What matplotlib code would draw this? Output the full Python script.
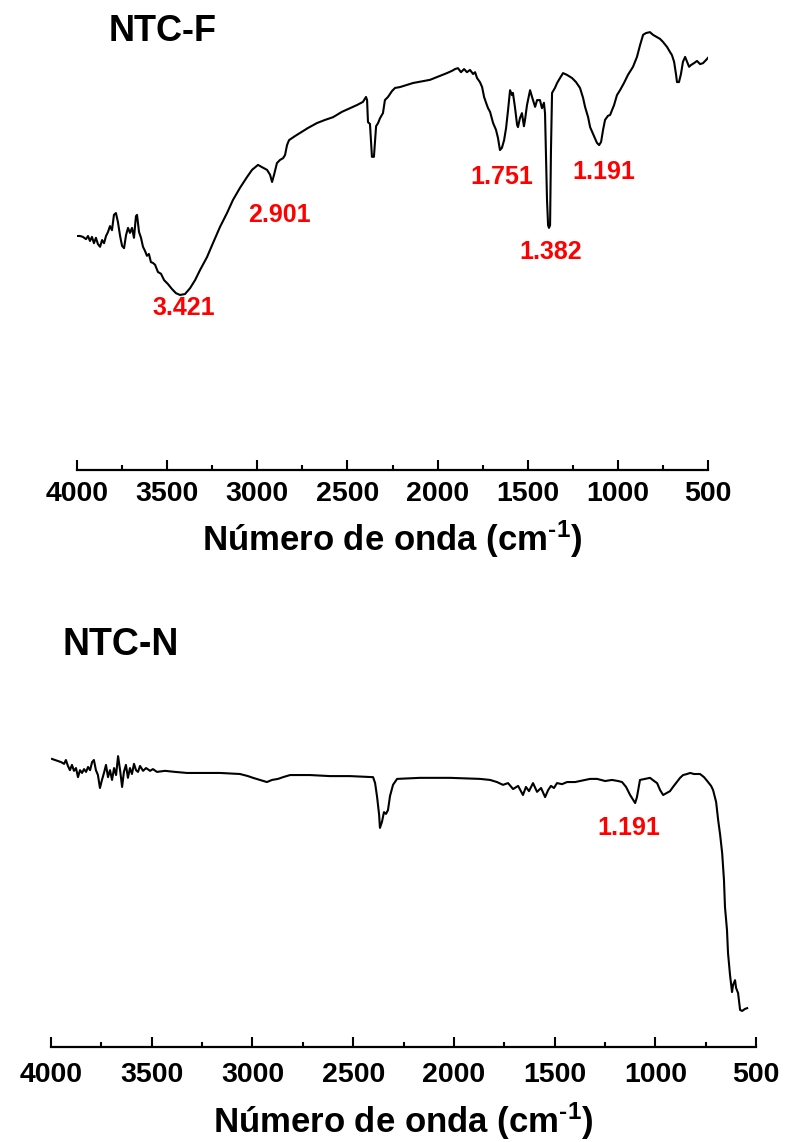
import numpy as np
import matplotlib
matplotlib.use("Agg")
import matplotlib.pyplot as plt
from matplotlib.ticker import MultipleLocator

plt.rcParams['font.family'] = ['Liberation Sans', 'DejaVu Sans']
plt.rcParams['font.weight'] = 'bold'
plt.rcParams['mathtext.fontset'] = 'custom'
plt.rcParams['mathtext.rm'] = 'Liberation Sans:bold'
plt.rcParams['mathtext.it'] = 'Liberation Sans:bold'
plt.rcParams['mathtext.bf'] = 'Liberation Sans:bold'

# NTC-F spectrum (wavenumber cm-1, transmittance a.u.)
wn_f = [4000, 3983, 3967, 3950, 3939, 3928, 3917, 3906, 3895, 3884, 3872, 3861, 3850, 3839,
        3828, 3817, 3806, 3795, 3784, 3773, 3761, 3750, 3739, 3728, 3717, 3706, 3695, 3684,
        3673, 3667, 3656, 3645, 3634, 3623, 3612, 3601, 3590, 3578, 3567, 3551, 3534, 3517,
        3495, 3473, 3451, 3429, 3401, 3373, 3345, 3318, 3279, 3246, 3207, 3168, 3135, 3096,
        3057, 3029, 2996, 2974, 2946, 2929, 2918, 2907, 2891, 2874, 2857, 2846, 2835, 2824,
        2791, 2763, 2719, 2669, 2624, 2580, 2530, 2486, 2447, 2414, 2397, 2391, 2386, 2375,
        2364, 2353, 2341, 2330, 2319, 2303, 2292, 2275, 2253, 2236, 2208, 2136, 2042, 1986,
        1948, 1920, 1903, 1887, 1870, 1853, 1837, 1820, 1803, 1792, 1781, 1765, 1753, 1742,
        1731, 1720, 1709, 1692, 1676, 1665, 1654, 1643, 1631, 1620, 1609, 1598, 1587, 1582,
        1570, 1559, 1554, 1543, 1532, 1521, 1515, 1504, 1487, 1476, 1459, 1448, 1432, 1421,
        1410, 1404, 1398, 1393, 1387, 1382, 1376, 1371, 1365, 1349, 1337, 1321, 1304, 1282,
        1254, 1232, 1210, 1193, 1182, 1165, 1154, 1132, 1116, 1104, 1093, 1082, 1071, 1055,
        1043, 1021, 1005, 988, 966, 944, 916, 894, 877, 860, 844, 822, 805, 783, 766, 749,
        727, 711, 700, 688, 677, 672, 661, 650, 639, 627, 616, 605, 594, 578, 561, 544, 528,
        511, 500]
t_f = [52.0, 52.0, 51.8, 51.3, 52.0, 50.9, 51.8, 50.4, 51.6, 50.2, 49.6, 51.1, 50.4, 52.0,
       52.9, 54.2, 53.3, 56.7, 57.1, 55.1, 52.0, 49.8, 49.3, 52.2, 53.8, 52.7, 53.8, 51.6,
       56.4, 56.7, 52.9, 51.6, 49.6, 48.7, 47.6, 48.0, 46.2, 46.0, 45.6, 44.0, 43.6, 42.2,
       41.3, 40.2, 39.3, 38.9, 39.1, 40.4, 42.2, 44.4, 47.3, 50.4, 54.0, 57.1, 60.0, 62.7,
       65.1, 66.7, 67.8, 67.3, 66.7, 65.6, 64.0, 65.6, 68.2, 68.9, 69.3, 70.0, 72.2, 73.3,
       74.2, 74.9, 76.0, 77.1, 77.8, 78.4, 79.6, 80.4, 81.1, 81.8, 82.9, 82.2, 77.3, 76.9,
       69.6, 69.6, 76.4, 77.1, 78.2, 79.3, 82.2, 82.9, 84.2, 84.9, 85.1, 86.0, 86.7, 87.6,
       88.2, 88.7, 89.1, 89.3, 88.4, 89.1, 88.4, 88.9, 88.0, 88.4, 87.1, 86.2, 85.1, 82.9,
       81.6, 80.4, 79.6, 77.1, 75.6, 73.8, 71.1, 71.6, 73.3, 76.0, 80.0, 84.4, 83.3, 83.8,
       80.4, 76.7, 76.2, 78.2, 79.3, 76.4, 77.8, 81.1, 84.4, 82.9, 80.7, 82.2, 82.2, 80.4,
       81.6, 79.3, 68.9, 60.0, 54.4, 53.8, 54.4, 71.1, 83.8, 84.9, 86.0, 87.1, 88.2, 87.8,
       87.1, 86.2, 84.9, 82.7, 80.7, 78.4, 76.2, 74.2, 72.7, 72.2, 72.9, 75.6, 77.8, 78.7,
       78.9, 81.1, 83.3, 84.4, 86.0, 87.8, 89.6, 91.8, 94.4, 96.7, 97.1, 97.3, 96.7, 96.2,
       95.8, 95.1, 94.0, 92.9, 92.2, 90.7, 87.8, 86.2, 86.2, 88.0, 90.7, 91.8, 90.7, 89.6,
       90.0, 90.4, 90.9, 90.2, 90.4, 91.1, 91.6]

# NTC-N spectrum
wn_n = [3995, 3980, 3965, 3950, 3935, 3926, 3916, 3906, 3896, 3886, 3876, 3866, 3856, 3846,
        3836, 3826, 3816, 3806, 3796, 3787, 3777, 3767, 3757, 3747, 3737, 3727, 3717, 3707,
        3697, 3687, 3677, 3667, 3657, 3647, 3638, 3628, 3618, 3608, 3598, 3588, 3578, 3568,
        3558, 3543, 3528, 3508, 3494, 3474, 3434, 3384, 3325, 3260, 3161, 3062, 3022, 2997,
        2962, 2928, 2903, 2873, 2848, 2813, 2714, 2615, 2516, 2401, 2391, 2381, 2371, 2367,
        2357, 2347, 2337, 2327, 2317, 2302, 2282, 2168, 2019, 1870, 1820, 1786, 1756, 1731,
        1706, 1681, 1657, 1642, 1627, 1607, 1587, 1567, 1547, 1532, 1518, 1503, 1488, 1463,
        1438, 1398, 1373, 1324, 1289, 1249, 1215, 1185, 1165, 1145, 1125, 1110, 1100, 1091,
        1076, 1051, 1026, 1006, 991, 976, 961, 942, 927, 912, 897, 877, 862, 842, 827, 808,
        793, 778, 758, 738, 723, 713, 698, 688, 678, 668, 659, 654, 644, 639, 629, 619, 614,
        604, 599, 589, 584, 579, 569, 554, 544]
t_n = [82.3, 82.0, 81.7, 81.4, 80.9, 82.0, 80.3, 79.1, 80.6, 78.9, 79.7, 77.1, 79.1, 78.3,
       79.4, 78.6, 80.0, 79.1, 81.4, 82.0, 79.1, 77.7, 74.0, 76.3, 78.3, 80.6, 77.1, 79.1,
       76.3, 79.7, 77.7, 83.1, 79.1, 74.3, 78.6, 80.6, 76.9, 79.7, 78.0, 80.9, 79.1, 78.6,
       80.3, 78.9, 79.7, 78.9, 79.4, 78.6, 78.9, 78.6, 78.3, 78.3, 78.3, 78.0, 77.4, 76.9,
       76.3, 75.7, 76.3, 76.6, 77.1, 77.7, 77.7, 77.4, 77.4, 77.1, 75.4, 71.4, 66.3, 62.6,
       64.3, 67.1, 66.6, 67.7, 71.7, 74.9, 76.6, 76.9, 76.9, 76.6, 76.3, 75.7, 74.9, 75.4,
       73.7, 74.6, 72.0, 74.3, 73.1, 75.4, 72.9, 74.0, 71.4, 73.4, 74.6, 74.0, 75.4, 75.1,
       75.7, 75.7, 76.0, 76.6, 76.6, 76.0, 76.3, 76.0, 75.7, 74.3, 72.0, 70.6, 69.7, 71.4,
       76.3, 76.6, 76.9, 76.0, 75.4, 73.4, 72.0, 72.6, 73.1, 74.3, 75.4, 76.9, 77.7, 78.0,
       78.3, 78.0, 78.0, 78.0, 77.1, 75.7, 74.6, 73.4, 70.0, 64.9, 60.6, 55.4, 47.7, 40.0,
       33.4, 26.9, 20.6, 15.7, 17.7, 19.1, 16.9, 15.4, 12.9, 10.6, 10.3, 10.9, 11.1]

# peak labels: (text, wavenumber, transmittance)
peaks_f = [("3.421", 3406, 36.0), ("2.901", 2879, 56.7), ("1.751", 1643, 65.1),
           ("1.382", 1371, 48.4), ("1.191", 1077, 66.2)]
peaks_n = [("1.191", 1130, 62.6)]

ticks = [4000, 3500, 3000, 2500, 2000, 1500, 1000, 500]

fig = plt.figure(figsize=(7.85, 11.42), dpi=100)
ax1 = fig.add_axes([77/785, 1 - 470/1142, 631/785, 450/1142])
ax2 = fig.add_axes([51/785, 1 - 1047/1142, 705/785, 350/1142])


def style(ax, pad, labelpad):
    ax.set_xlim(4000, 500)
    ax.set_ylim(0, 100)
    for s in ['left', 'right', 'top']:
        ax.spines[s].set_visible(False)
    ax.spines['bottom'].set_linewidth(1.6)
    ax.set_yticks([])
    ax.set_xticks(ticks)
    ax.xaxis.set_minor_locator(MultipleLocator(250))
    ax.tick_params(axis='x', which='major', direction='in', length=7, width=1.5,
                   labelsize=20.5, pad=pad)
    ax.tick_params(axis='x', which='minor', direction='in', length=3.5, width=1.5)
    for lab in ax.get_xticklabels():
        lab.set_fontweight('bold')
    ax.set_xlabel(r'Número de onda (cm$^{\text{-1}}$)', fontsize=25, fontweight='bold',
                  labelpad=labelpad)
    ax.patch.set_alpha(0)


ax1.plot(wn_f, t_f, color='black', lw=1.5)
style(ax1, pad=8, labelpad=8)
for txt, x, y in peaks_f:
    ax1.text(x, y, txt, color='red', fontsize=18, fontweight='bold', ha='center', va='center')
ax1.text(0.136, 0.953, 'NTC-F', transform=ax1.transAxes, fontsize=26, fontweight='bold',
         ha='center', va='baseline')

ax2.plot(wn_n, t_n, color='black', lw=1.5)
style(ax2, pad=11, labelpad=9)
for txt, x, y in peaks_n:
    ax2.text(x, y, txt, color='red', fontsize=18, fontweight='bold', ha='center', va='center')
ax2.text(0.099, 1.12, 'NTC-N', transform=ax2.transAxes, fontsize=27, fontweight='bold',
         ha='center', va='baseline', clip_on=False)

fig.savefig('out.png', dpi=100)
